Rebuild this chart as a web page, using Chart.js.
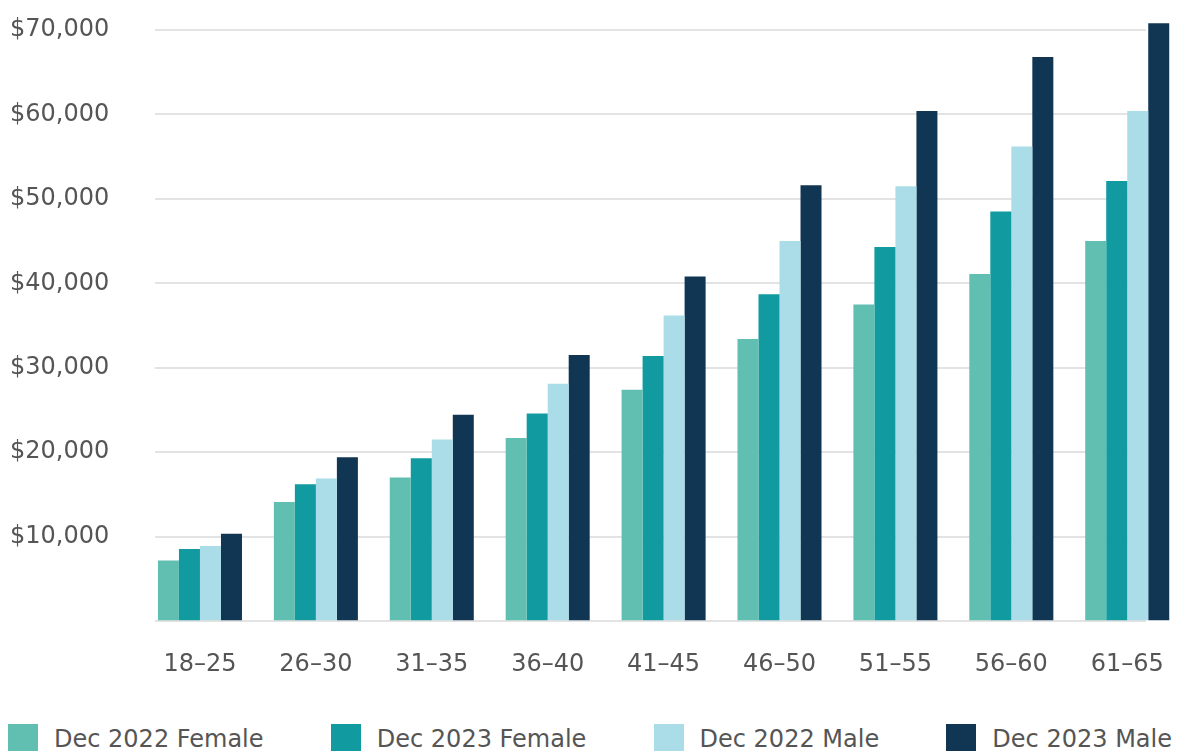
<!DOCTYPE html>
<html>
<head>
<meta charset="utf-8">
<script src="https://cdn.jsdelivr.net/npm/chart.js@4"></script>
<style>
    body { margin: 0; width: 1181px; height: 751px; overflow: hidden; background: #fff; }
    #chart { display: block; }
    #legend {
        display: flex;
        justify-content: space-between;
        padding: 0 9px 0 8px;
        margin-top: 16px;
        font: 24px "DejaVu Sans", sans-serif;
        color: #555;
    }
    .item { display: flex; align-items: center; white-space: nowrap; }
    .box { width: 30px; height: 30px; margin-right: 16px; }
</style>
</head>
<body>
<canvas id="chart" width="1181" height="708"></canvas>
<div id="legend"></div>
<script>
const categories = ['18–25', '26–30', '31–35', '36–40', '41–45', '46–50', '51–55', '56–60', '61–65'];
const seriesNames = ['Dec 2022 Female', 'Dec 2023 Female', 'Dec 2022 Male', 'Dec 2023 Male'];
const seriesColors = ['#61bfb1', '#119ba1', '#aadde7', '#113654'];

const dec2022Female = [7200, 14100, 17000, 21700, 27400, 33400, 37500, 41100, 45000];
const dec2023Female = [8550, 16200, 19300, 24600, 31400, 38700, 44300, 48500, 52100];
const dec2022Male = [8900, 16900, 21500, 28100, 36200, 45000, 51500, 56200, 60400];
const dec2023Male = [10350, 19400, 24450, 31500, 40800, 51600, 60400, 66800, 70800];

const yTicks = [0, 10000, 20000, 30000, 40000, 50000, 60000, 70000];

const allSeries = [dec2022Female, dec2023Female, dec2022Male, dec2023Male];
const textColor = '#555';
const fontFamily = '"DejaVu Sans", sans-serif';

const datasets = allSeries.map((values, s) => ({
    label: seriesNames[s],
    data: values.map((v, i) => ({ x: i, y: v })),
    backgroundColor: seriesColors[s],
    borderWidth: 0,
    categoryPercentage: 0.725,
    barPercentage: 1,
    clip: false
}));

const ctx = document.getElementById('chart').getContext('2d');
new Chart(ctx, {
    type: 'bar',
    data: { datasets: datasets },
    options: {
        responsive: false,
        animation: false,
        devicePixelRatio: 1,
        layout: { padding: { left: 10, right: 35, top: 13, bottom: 0 } },
        plugins: { legend: { display: false }, tooltip: { enabled: false } },
        scales: {
            x: {
                type: 'linear',
                offset: false,
                min: -0.388,
                max: 8.162,
                grid: { display: false, drawTicks: false, offset: false },
                border: { display: false },
                afterBuildTicks: scale => { scale.ticks = categories.map((c, i) => ({ value: i })); },
                afterFit: scale => { scale.paddingLeft = 0; scale.paddingRight = 0; },
                ticks: {
                    autoSkip: false,
                    maxRotation: 0,
                    padding: 29,
                    color: textColor,
                    font: { family: fontFamily, size: 24 },
                    callback: v => categories[v]
                }
            },
            y: {
                min: 0,
                max: 72000,
                grid: { color: '#e3e3e3', lineWidth: 2, drawTicks: false },
                border: { display: false },
                afterBuildTicks: scale => { scale.ticks = yTicks.map(v => ({ value: v })); },
                afterFit: scale => {
                    scale.width = 145;
                    scale.paddingTop = 0;
                    scale.paddingBottom = 0;
                },
                ticks: {
                    crossAlign: 'far',
                    color: textColor,
                    font: { family: fontFamily, size: 24 },
                    callback: v => v === 0 ? '' : '$' + v.toLocaleString('en-US')
                }
            }
        }
    }
});

// Legend underneath the canvas
const legend = document.getElementById('legend');
seriesNames.forEach((name, s) => {
    const item = document.createElement('div');
    item.className = 'item';
    item.innerHTML = `<span class="box" style="background:${seriesColors[s]}"></span><span>${name}</span>`;
    legend.appendChild(item);
});
</script>
</body>
</html>
